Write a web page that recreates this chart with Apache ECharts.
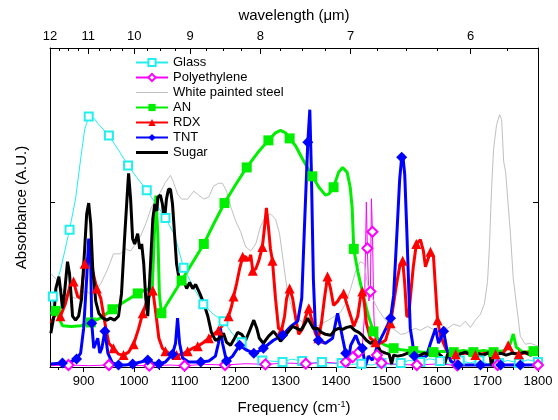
<!DOCTYPE html>
<html>
<head>
<meta charset="utf-8">
<script src="https://cdn.jsdelivr.net/npm/echarts@6/dist/echarts.min.js"></script>
<style>
  html, body { margin: 0; padding: 0; background: #fff; }
  #chart { width: 558px; height: 420px; }
</style>
</head>
<body>
<div id="chart"></div>
<script>
// [frequency cm^-1, absorbance, marker?]
const glass = [
  [835, 0.16], [839, 0.214, 1], [855, 0.30], [872, 0.416, 1], [884, 0.51], [894, 0.63], [902, 0.72],
  [910, 0.759, 1], [920, 0.755], [930, 0.735], [950, 0.702, 1], [968, 0.66], [988, 0.611, 1],
  [1005, 0.575], [1025, 0.536, 1], [1045, 0.49], [1062, 0.452, 1], [1080, 0.40], [1098, 0.301, 1],
  [1118, 0.24], [1137, 0.19, 1], [1157, 0.16], [1177, 0.139, 1], [1195, 0.10], [1213, 0.075, 1],
  [1230, 0.045], [1254, 0.02, 1], [1270, 0.018], [1294, 0.015, 1], [1312, 0.024], [1333, 0.018, 1],
  [1350, 0.012], [1372, 0.015, 1], [1390, 0.01], [1411, 0.012, 1], [1430, 0.008], [1450, 0.01, 1],
  [1470, 0.006], [1490, 0.012, 1], [1510, 0.006], [1528, 0.012, 1], [1545, 0.02], [1567, 0.015, 1],
  [1585, 0.025], [1606, 0.018, 1], [1625, 0.008], [1645, 0.02, 1], [1665, 0.012], [1684, 0.02, 1],
  [1700, 0.01], [1723, 0.012, 1], [1740, 0.02], [1762, 0.012, 1], [1780, 0.022], [1800, 0.015, 1]
];
const polyethylene = [
  [835, 0.004], [870, 0.006, 1], [910, 0.004], [950, 0.006, 1], [990, 0.005], [1030, 0.004, 1],
  [1070, 0.006], [1100, 0.004, 1], [1140, 0.008], [1180, 0.006, 1], [1220, 0.01], [1260, 0.008, 1],
  [1300, 0.012], [1340, 0.01, 1], [1380, 0.014], [1400, 0.012], [1419, 0.015, 1], [1433, 0.03, 1],
  [1445, 0.045, 1], [1452, 0.06], [1456, 0.15], [1460, 0.50], [1462, 0.36, 1], [1465, 0.20],
  [1468, 0.229, 1], [1470, 0.51], [1472, 0.41, 1], [1475, 0.15], [1478, 0.06], [1481, 0.036, 1],
  [1490, 0.012, 1], [1520, 0.008], [1560, 0.006, 1], [1600, 0.009], [1640, 0.005, 1], [1680, 0.008],
  [1720, 0.006, 1], [1760, 0.009], [1800, 0.006, 1]
];
const whiteSteel = [
  [835, 0.283], [845, 0.268], [854, 0.244], [864, 0.223], [874, 0.214], [884, 0.208], [894, 0.22],
  [904, 0.232], [914, 0.22], [924, 0.232], [934, 0.253], [948, 0.298], [959, 0.343], [973, 0.343],
  [983, 0.358], [993, 0.352], [1003, 0.373], [1013, 0.398], [1023, 0.434], [1033, 0.479], [1043, 0.509],
  [1052, 0.53], [1062, 0.56], [1072, 0.581], [1078, 0.56], [1086, 0.524], [1094, 0.509], [1106, 0.509],
  [1118, 0.533], [1128, 0.521], [1138, 0.509], [1148, 0.515], [1157, 0.548], [1167, 0.557], [1175, 0.557],
  [1183, 0.533], [1191, 0.488], [1201, 0.443], [1211, 0.41], [1221, 0.364], [1231, 0.352], [1241, 0.373],
  [1250, 0.425], [1260, 0.455], [1270, 0.464], [1280, 0.449], [1288, 0.404], [1296, 0.313], [1304, 0.223],
  [1314, 0.172], [1324, 0.148], [1336, 0.133], [1349, 0.139], [1361, 0.123], [1373, 0.133], [1385, 0.142],
  [1397, 0.154], [1409, 0.166], [1419, 0.193], [1429, 0.238], [1439, 0.292], [1448, 0.319], [1456, 0.313],
  [1462, 0.253], [1472, 0.208], [1484, 0.172], [1498, 0.142], [1512, 0.117], [1528, 0.099], [1538, 0.102],
  [1547, 0.111], [1557, 0.117], [1567, 0.111], [1581, 0.123], [1593, 0.114], [1607, 0.127], [1621, 0.117],
  [1633, 0.13], [1646, 0.123], [1656, 0.139], [1666, 0.12], [1676, 0.142], [1686, 0.16], [1694, 0.193],
  [1700, 0.259], [1704, 0.373], [1708, 0.539], [1712, 0.66], [1718, 0.735], [1724, 0.765], [1728, 0.75],
  [1732, 0.623], [1736, 0.59], [1740, 0.509], [1745, 0.413], [1751, 0.268], [1759, 0.169], [1765, 0.093],
  [1775, 0.069], [1785, 0.072], [1800, 0.063]
];
const an = [
  [835, 0.16], [845, 0.17, 1], [858, 0.125], [875, 0.123], [895, 0.125], [914, 0.135, 1], [935, 0.15],
  [957, 0.175, 1], [983, 0.2], [1007, 0.223, 1], [1025, 0.235], [1036, 0.24], [1040, 0.40], [1043, 0.52],
  [1047, 0.40], [1050, 0.22], [1054, 0.163, 1], [1075, 0.215], [1094, 0.262, 1], [1117, 0.32],
  [1138, 0.373, 1], [1158, 0.435], [1179, 0.497, 1], [1200, 0.55], [1223, 0.605, 1], [1245, 0.65],
  [1266, 0.687, 1], [1280, 0.71], [1290, 0.717], [1300, 0.71], [1308, 0.693, 1], [1320, 0.67],
  [1332, 0.635], [1353, 0.578, 1], [1366, 0.545], [1379, 0.521], [1386, 0.525], [1395, 0.545, 1],
  [1405, 0.59], [1413, 0.605], [1422, 0.59], [1428, 0.545], [1432, 0.48], [1435, 0.358, 1], [1443, 0.29],
  [1452, 0.229], [1463, 0.16], [1474, 0.108, 1], [1485, 0.08], [1495, 0.068], [1514, 0.057, 1],
  [1530, 0.052], [1553, 0.048, 1], [1573, 0.045], [1593, 0.045, 1], [1613, 0.048], [1633, 0.045, 1],
  [1652, 0.05], [1672, 0.045, 1], [1692, 0.05], [1712, 0.045, 1], [1735, 0.05], [1745, 0.07],
  [1751, 0.10], [1757, 0.06], [1770, 0.045], [1791, 0.048, 1], [1800, 0.048]
];
const rdx = [
  [835, 0.133], [845, 0.163], [854, 0.154, 1], [864, 0.193], [874, 0.253], [880, 0.259, 1], [888, 0.214],
  [894, 0.208], [902, 0.313, 1], [910, 0.334], [916, 0.304], [926, 0.238, 1], [934, 0.208], [944, 0.117],
  [950, 0.072], [959, 0.057, 1], [969, 0.039], [979, 0.036, 1], [989, 0.045], [999, 0.069, 1],
  [1009, 0.117], [1017, 0.163, 1], [1027, 0.208], [1037, 0.232, 1], [1043, 0.163], [1049, 0.087],
  [1056, 0.057], [1062, 0.048, 1], [1072, 0.039], [1084, 0.036, 1], [1096, 0.039], [1106, 0.048, 1],
  [1116, 0.057], [1126, 0.063, 1], [1138, 0.075], [1148, 0.087, 1], [1157, 0.099], [1167, 0.111, 1],
  [1177, 0.13], [1187, 0.154, 1], [1193, 0.184], [1197, 0.214, 1], [1203, 0.253], [1209, 0.298],
  [1215, 0.334, 1], [1221, 0.334], [1227, 0.322], [1231, 0.34], [1235, 0.292, 1], [1241, 0.298],
  [1247, 0.322], [1254, 0.364, 1], [1258, 0.419], [1262, 0.482], [1266, 0.425], [1270, 0.358],
  [1274, 0.322, 1], [1280, 0.208], [1286, 0.117], [1292, 0.111, 1], [1298, 0.154], [1302, 0.208],
  [1308, 0.238, 1], [1314, 0.208], [1320, 0.148], [1326, 0.099], [1334, 0.117], [1340, 0.154],
  [1346, 0.178, 1], [1351, 0.148], [1359, 0.102], [1365, 0.087, 1], [1371, 0.133], [1377, 0.208],
  [1383, 0.274, 1], [1389, 0.238], [1395, 0.187], [1403, 0.199], [1409, 0.214], [1415, 0.223, 1],
  [1421, 0.193], [1429, 0.154], [1435, 0.123], [1443, 0.154], [1448, 0.208], [1452, 0.229, 1],
  [1456, 0.193], [1460, 0.133], [1468, 0.087], [1478, 0.075, 1], [1488, 0.072], [1498, 0.081],
  [1508, 0.133, 1], [1514, 0.193], [1520, 0.253], [1526, 0.304], [1532, 0.322, 1], [1536, 0.253],
  [1540, 0.154], [1544, 0.154], [1547, 0.208], [1553, 0.304], [1559, 0.373, 1], [1567, 0.386],
  [1573, 0.352], [1577, 0.304], [1581, 0.322], [1587, 0.349, 1], [1593, 0.334], [1597, 0.238],
  [1601, 0.142, 1], [1607, 0.093], [1617, 0.057], [1623, 0.042], [1637, 0.039, 1], [1656, 0.042],
  [1676, 0.036, 1], [1696, 0.042], [1716, 0.039, 1], [1731, 0.042], [1741, 0.066, 1], [1751, 0.042],
  [1762, 0.039, 1], [1785, 0.045], [1800, 0.039]
];
const tnt = [
  [835, 0.009], [858, 0.012, 1], [874, 0.015], [886, 0.024, 1], [894, 0.042], [900, 0.117], [906, 0.268],
  [910, 0.389], [914, 0.313], [916, 0.133, 1], [920, 0.057], [924, 0.072], [928, 0.087], [932, 0.042],
  [936, 0.057], [942, 0.108, 1], [948, 0.042], [957, 0.012], [969, 0.006, 1], [983, 0.006],
  [997, 0.009, 1], [1013, 0.015], [1027, 0.021, 1], [1037, 0.012], [1049, 0.009, 1], [1062, 0.015],
  [1076, 0.039, 1], [1082, 0.072], [1086, 0.148], [1090, 0.072], [1096, 0.027], [1108, 0.015],
  [1132, 0.015, 1], [1148, 0.018], [1161, 0.033], [1167, 0.072], [1171, 0.117], [1175, 0.072],
  [1183, 0.018, 1], [1195, 0.033], [1209, 0.066, 1], [1223, 0.051], [1237, 0.042, 1], [1247, 0.048],
  [1256, 0.057, 1], [1266, 0.069], [1276, 0.081], [1294, 0.096, 1], [1310, 0.123], [1324, 0.139],
  [1332, 0.208], [1338, 0.449], [1344, 0.681, 1], [1348, 0.78], [1351, 0.599], [1355, 0.268],
  [1359, 0.117], [1365, 0.081, 1], [1379, 0.072], [1393, 0.087], [1399, 0.133], [1403, 0.163],
  [1407, 0.133], [1413, 0.087], [1419, 0.042, 1], [1423, 0.003], [1429, 0.066], [1439, 0.096],
  [1445, 0.072], [1452, 0.057, 1], [1458, 0.003], [1464, 0.033], [1472, 0.021], [1484, 0.072],
  [1494, 0.102], [1502, 0.127], [1508, 0.148, 1], [1514, 0.217], [1520, 0.389], [1526, 0.569],
  [1530, 0.636, 1], [1532, 0.645], [1536, 0.584], [1540, 0.419], [1544, 0.238], [1547, 0.117],
  [1551, 0.078], [1555, 0.033, 1], [1567, 0.027], [1579, 0.033], [1587, 0.072], [1597, 0.117],
  [1603, 0.072], [1613, 0.108, 1], [1619, 0.057], [1627, 0.018], [1642, 0.006, 1], [1666, 0.006],
  [1686, 0.006, 1], [1706, 0.006], [1726, 0.006, 1], [1746, 0.006], [1765, 0.006, 1], [1800, 0.006]
];
const sugar = [
  [835, 0.102], [841, 0.154], [845, 0.238], [851, 0.274], [855, 0.223], [858, 0.178], [862, 0.223],
  [868, 0.319], [872, 0.283], [878, 0.154], [884, 0.142], [890, 0.154], [896, 0.208], [902, 0.358],
  [906, 0.464], [910, 0.497], [914, 0.434], [918, 0.298], [924, 0.199], [930, 0.163], [938, 0.148],
  [946, 0.142], [953, 0.148], [961, 0.142], [969, 0.154], [975, 0.223], [981, 0.389], [987, 0.539],
  [989, 0.587], [993, 0.509], [997, 0.389], [1001, 0.373], [1007, 0.404], [1011, 0.358], [1015, 0.373],
  [1019, 0.313], [1023, 0.208], [1027, 0.154], [1033, 0.328], [1037, 0.449], [1041, 0.494],
  [1045, 0.473], [1047, 0.515], [1052, 0.521], [1056, 0.494], [1060, 0.443], [1064, 0.509],
  [1068, 0.539], [1072, 0.539], [1076, 0.494], [1080, 0.404], [1084, 0.313], [1090, 0.259],
  [1098, 0.262], [1104, 0.238], [1110, 0.256], [1116, 0.238], [1122, 0.25], [1130, 0.223],
  [1138, 0.193], [1146, 0.154], [1153, 0.105], [1161, 0.081], [1169, 0.087], [1177, 0.102],
  [1183, 0.075], [1191, 0.066], [1199, 0.087], [1205, 0.105], [1213, 0.099], [1221, 0.081],
  [1229, 0.111], [1237, 0.142], [1243, 0.117], [1248, 0.087], [1256, 0.072], [1266, 0.093],
  [1276, 0.108], [1284, 0.093], [1290, 0.078], [1298, 0.093], [1306, 0.108], [1314, 0.123],
  [1322, 0.117], [1330, 0.111], [1338, 0.13], [1344, 0.148], [1349, 0.133], [1355, 0.117],
  [1363, 0.117], [1371, 0.105], [1379, 0.099], [1389, 0.096], [1397, 0.111], [1405, 0.117],
  [1413, 0.114], [1421, 0.12], [1429, 0.123], [1437, 0.111], [1445, 0.105], [1452, 0.096],
  [1460, 0.081], [1468, 0.072], [1478, 0.078], [1488, 0.048], [1498, 0.042], [1505, 0.039],
  [1510, 0.009], [1514, 0.036], [1522, 0.033], [1532, 0.036], [1542, 0.042], [1551, 0.045],
  [1563, 0.033], [1575, 0.042], [1587, 0.036], [1599, 0.045], [1609, 0.033], [1615, 0.009],
  [1621, 0.039], [1633, 0.042], [1639, 0.003], [1645, 0.039], [1656, 0.045], [1668, 0.036],
  [1680, 0.042], [1692, 0.036], [1704, 0.045], [1708, 0.003], [1713, 0.039], [1726, 0.042],
  [1737, 0.036], [1749, 0.042], [1761, 0.039], [1773, 0.045], [1785, 0.036], [1800, 0.042]
];

const freqTicks = [900, 1000, 1100, 1200, 1300, 1400, 1500, 1600, 1700, 1800];
const freqMinorTicks = [850, 950, 1050, 1150, 1250, 1350, 1450, 1550, 1650, 1750];
const wavelengthTicks = [12, 11, 10, 9, 8, 7, 6];
const wavelengthMinorTicks = [11.75, 11.5, 11.25, 10.75, 10.5, 10.25, 9.75, 9.5, 9.25, 8.75, 8.5, 8.25,
  7.75, 7.5, 7.25, 6.75, 6.5, 6.25, 5.75];

const FONT = 'Liberation Sans, Arial, sans-serif';
const fMin = 10000 / 12, fMax = 1800;
const toFreq = wl => 10000 / wl;

const toData = rows => rows.map(([f, v, m]) => m ? [f, v] : { value: [f, v], symbol: 'none' });

const chart = echarts.init(document.getElementById('chart'));

const baseX = { type: 'value', min: fMin, max: fMax, splitLine: { show: false } };
const lineSeries = (name, rows, color, width, symbol, size, empty) => ({
  name, type: 'line', data: toData(rows), color,
  showAllSymbol: true, symbol, symbolSize: size,
  lineStyle: { width, color },
  itemStyle: { color, borderColor: color, borderWidth: empty ? 1 : 0 },
  xAxisIndex: 0, yAxisIndex: 0
});

chart.setOption({
  animation: false,
  backgroundColor: '#fff',
  grid: { left: 50, right: 20, top: 48, bottom: 51 },
  legend: {
    orient: 'vertical', left: 135, top: 56, padding: 0, itemWidth: 32, itemHeight: 9, itemGap: 2,
    textStyle: { fontFamily: FONT, fontSize: 13, color: '#000', lineHeight: 13 },
    data: [
      'Glass', 'Polyethylene',
      { name: 'White painted steel', icon: 'path://M0,0 L32,0 L32,1 L0,1 Z' },
      'AN', 'RDX', 'TNT',
      { name: 'Sugar', icon: 'path://M0,0 L32,0 L32,3 L0,3 Z' }
    ]
  },
  xAxis: [
    Object.assign({}, baseX, {
      position: 'bottom',
      axisLine: { lineStyle: { color: '#000', width: 1 } },
      axisTick: { inside: false, length: 5, customValues: freqTicks, lineStyle: { color: '#000' } },
      axisLabel: {
        customValues: freqTicks, fontFamily: FONT, fontSize: 13, color: '#000', margin: 8,
        formatter: v => String(v)
      },
      name: 'Frequency (cm{sup|-1})', nameLocation: 'middle', nameGap: 33,
      nameTextStyle: {
        fontFamily: FONT, fontSize: 15, color: '#000',
        rich: { sup: { fontFamily: FONT, fontSize: 9, color: '#000', verticalAlign: 'top', padding: [0, 0, 6, 0] } }
      }
    }),
    Object.assign({}, baseX, {
      position: 'bottom',
      axisLine: { show: false },
      axisTick: { inside: false, length: 3, customValues: freqMinorTicks, lineStyle: { color: '#000' } },
      axisLabel: { show: false }
    }),
    Object.assign({}, baseX, {
      position: 'top',
      axisLine: { lineStyle: { color: '#000', width: 1 } },
      axisTick: { inside: true, length: 6, customValues: wavelengthTicks.map(toFreq), lineStyle: { color: '#000' } },
      axisLabel: {
        customValues: wavelengthTicks.map(toFreq), fontFamily: FONT, fontSize: 13, color: '#000', margin: 5,
        formatter: v => String(Math.round(10000 / v))
      },
      name: 'wavelength (μm)', nameLocation: 'middle', nameGap: 25,
      nameTextStyle: { fontFamily: FONT, fontSize: 15, color: '#000' }
    }),
    Object.assign({}, baseX, {
      position: 'top',
      axisLine: { show: false },
      axisTick: { inside: true, length: 3, customValues: wavelengthMinorTicks.map(toFreq), lineStyle: { color: '#000' } },
      axisLabel: { show: false }
    })
  ],
  yAxis: [
    {
      type: 'value', position: 'left', min: 0, max: 0.967, interval: 0.5,
      splitLine: { show: false },
      axisLine: { show: true, lineStyle: { color: '#000', width: 1 } },
      axisTick: { show: true, inside: true, length: 5, lineStyle: { color: '#000' } },
      axisLabel: { show: false },
      name: 'Absorbance (A.U.)', nameLocation: 'middle', nameGap: 21, nameRotate: 90,
      nameTextStyle: { fontFamily: FONT, fontSize: 15, color: '#000' }
    },
    {
      type: 'value', position: 'right', min: 0, max: 0.967, interval: 0.5,
      splitLine: { show: false },
      axisLine: { show: true, lineStyle: { color: '#000', width: 1 } },
      axisTick: { show: true, inside: true, length: 5, lineStyle: { color: '#000' } },
      axisLabel: { show: false }
    }
  ],
  series: [
    lineSeries('Glass', glass, '#22eeee', 1, 'emptyRect', 8, true),
    lineSeries('Polyethylene', polyethylene, '#ff00ff', 1, 'emptyDiamond', 10, true),
    lineSeries('White painted steel', whiteSteel, '#c0c0c0', 1, 'none', 0, false),
    lineSeries('AN', an, '#00ee00', 3, 'rect', 10, false),
    lineSeries('RDX', rdx, '#ff0000', 3, 'triangle', 10, false),
    lineSeries('TNT', tnt, '#0000ff', 3, 'diamond', 11, false),
    lineSeries('Sugar', sugar, '#000000', 3, 'none', 0, false)
  ]
});
</script>
</body>
</html>
